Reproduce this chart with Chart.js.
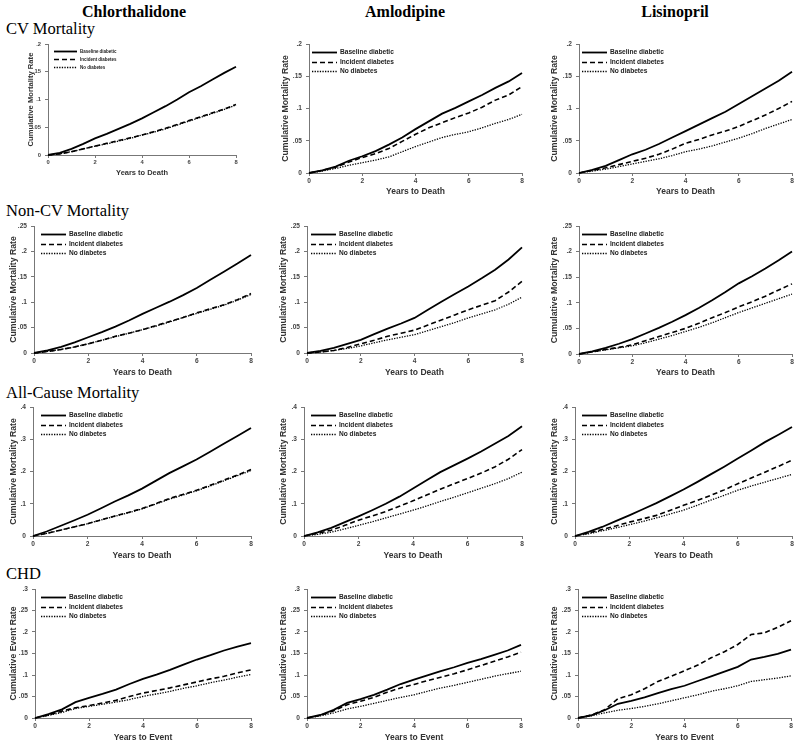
<!DOCTYPE html>
<html><head><meta charset="utf-8">
<script src="https://cdn.jsdelivr.net/npm/chart.js@4.4.0/dist/chart.umd.min.js"></script>
<style>
body{margin:0;background:#fff;width:800px;height:748px;overflow:hidden;position:relative;font-family:"Liberation Serif","Times New Roman",serif;}
.colt{position:absolute;font-weight:bold;font-size:16px;transform:translate(-50%,-50%);white-space:nowrap;color:#000;line-height:1}
.rowt{position:absolute;font-size:16.5px;transform:translateY(-50%);white-space:nowrap;color:#000;line-height:1}
canvas{position:absolute}
</style></head><body>
<script>
// ---------- DATA ----------
const years = [0,0.5,1,1.5,2,2.5,3,3.5,4,4.5,5,5.5,6,6.5,7,7.5,8];
const seriesNames = ['Baseline diabetic','Incident diabetes','No diabetes'];
const drugs = ['Chlorthalidone','Amlodipine','Lisinopril'];
const outcomes = ['CV Mortality','Non-CV Mortality','All-Cause Mortality','CHD'];
const yTitles = ['Cumulative Mortality Rate','Cumulative Mortality Rate','Cumulative Mortality Rate','Cumulative Event Rate'];
const xTitles = ['Years to Death','Years to Death','Years to Death','Years to Event'];
const xTickLabels = ['0','2','4','6','8'];
const yTickLabelsCV = ['0','.05','.1','.15','.2'];
const yTickLabelsNonCV = ['0','.05','.1','.15','.2','.25'];
const yTickLabelsAll = ['0','.1','.2','.3','.4'];
const yTickLabelsCHD = ['0','.05','.1','.15','.2','.25','.3'];

// CV mortality
const cvChlorBase = [0,.004,.011,.020,.030,.038,.047,.056,.066,.077,.088,.100,.113,.124,.136,.148,.159];
const cvChlorInc  = [0,.002,.006,.011,.016,.021,.026,.031,.036,.042,.048,.055,.062,.069,.076,.083,.091];
const cvChlorNo   = [0,.002,.006,.011,.016,.020,.025,.030,.036,.041,.047,.054,.061,.068,.075,.082,.090];
const cvAmloBase  = [0,.004,.010,.019,.026,.034,.044,.055,.068,.080,.092,.101,.111,.121,.132,.142,.155];
const cvAmloInc   = [0,.004,.009,.017,.024,.030,.038,.049,.060,.070,.078,.086,.093,.102,.113,.121,.134];
const cvAmloNo    = [0,.003,.007,.012,.016,.020,.025,.033,.041,.048,.055,.060,.064,.070,.077,.083,.091];
const cvLisBase   = [0,.005,.011,.020,.029,.036,.045,.055,.065,.075,.085,.095,.107,.119,.131,.143,.157];
const cvLisInc    = [0,.004,.008,.013,.018,.023,.029,.037,.046,.052,.059,.065,.072,.081,.090,.100,.111];
const cvLisNo     = [0,.003,.006,.010,.014,.018,.022,.027,.033,.037,.042,.048,.054,.061,.069,.076,.083];
// Non-CV mortality
const ncvChlorBase = [0,.005,.012,.021,.031,.041,.052,.064,.077,.089,.101,.114,.128,.144,.160,.176,.193];
const ncvChlorInc  = [0,.003,.007,.012,.018,.025,.033,.039,.046,.054,.062,.070,.079,.087,.095,.105,.117];
const ncvChlorNo   = [0,.003,.007,.012,.018,.025,.032,.039,.046,.053,.061,.070,.078,.086,.094,.104,.115];
const ncvAmloBase  = [0,.004,.010,.018,.026,.037,.048,.058,.069,.085,.101,.116,.131,.147,.164,.184,.208];
const ncvAmloInc   = [0,.002,.005,.011,.018,.025,.033,.039,.045,.055,.065,.075,.085,.094,.103,.120,.141];
const ncvAmloNo    = [0,.002,.005,.009,.014,.020,.026,.031,.036,.044,.052,.060,.069,.077,.085,.096,.110];
const ncvLisBase   = [0,.005,.012,.020,.029,.040,.051,.063,.076,.090,.105,.121,.138,.152,.167,.183,.200];
const ncvLisInc    = [0,.004,.009,.013,.018,.026,.034,.042,.050,.060,.071,.081,.092,.102,.113,.125,.137];
const ncvLisNo     = [0,.004,.008,.012,.016,.022,.029,.036,.044,.052,.061,.071,.081,.090,.099,.108,.117];
// All-cause mortality
const acChlorBase = [0,.014,.031,.048,.066,.086,.107,.126,.147,.171,.195,.216,.237,.261,.286,.310,.335];
const acChlorInc  = [0,.008,.018,.028,.038,.050,.062,.073,.085,.100,.116,.129,.142,.157,.173,.189,.206];
const acChlorNo   = [0,.008,.018,.028,.038,.050,.061,.072,.084,.099,.114,.127,.140,.155,.171,.187,.203];
const acAmloBase  = [0,.011,.025,.043,.061,.080,.100,.122,.147,.173,.198,.219,.240,.262,.286,.310,.340];
const acAmloInc   = [0,.008,.018,.033,.049,.062,.076,.092,.109,.127,.145,.162,.178,.195,.214,.238,.268];
const acAmloNo    = [0,.005,.012,.022,.033,.044,.056,.068,.080,.093,.107,.120,.134,.148,.162,.178,.198];
const acLisBase   = [0,.013,.028,.046,.064,.083,.102,.123,.144,.167,.191,.215,.240,.265,.291,.314,.338];
const acLisInc    = [0,.009,.020,.031,.043,.053,.064,.079,.095,.110,.126,.143,.162,.180,.198,.216,.235];
const acLisNo     = [0,.007,.016,.025,.035,.045,.056,.068,.080,.095,.111,.126,.142,.155,.167,.179,.191];
// CHD
const chdChlorBase = [0,.009,.020,.037,.047,.056,.066,.079,.091,.101,.112,.124,.136,.146,.157,.166,.174];
const chdChlorInc  = [0,.007,.016,.024,.029,.035,.041,.050,.058,.064,.070,.077,.084,.091,.097,.105,.112];
const chdChlorNo   = [0,.006,.013,.022,.027,.032,.037,.043,.050,.056,.062,.069,.075,.082,.088,.095,.101];
const chdAmloBase  = [0,.007,.019,.035,.044,.054,.066,.079,.089,.099,.109,.118,.128,.137,.147,.157,.170];
const chdAmloInc   = [0,.006,.017,.031,.039,.048,.060,.070,.078,.087,.095,.103,.112,.122,.132,.142,.153];
const chdAmloNo    = [0,.005,.012,.021,.027,.034,.041,.048,.054,.062,.070,.076,.083,.090,.097,.103,.109];
const chdLisBase   = [0,.006,.018,.033,.040,.048,.058,.067,.075,.086,.097,.108,.119,.136,.142,.149,.159];
const chdLisInc    = [0,.007,.019,.045,.054,.068,.085,.097,.110,.123,.140,.154,.171,.194,.198,.211,.226];
const chdLisNo     = [0,.005,.012,.018,.022,.027,.033,.040,.047,.054,.062,.068,.075,.085,.089,.093,.098];

// ---------- assembly ----------
const panelSeries = [
  [[cvChlorBase,cvChlorInc,cvChlorNo],[cvAmloBase,cvAmloInc,cvAmloNo],[cvLisBase,cvLisInc,cvLisNo]],
  [[ncvChlorBase,ncvChlorInc,ncvChlorNo],[ncvAmloBase,ncvAmloInc,ncvAmloNo],[ncvLisBase,ncvLisInc,ncvLisNo]],
  [[acChlorBase,acChlorInc,acChlorNo],[acAmloBase,acAmloInc,acAmloNo],[acLisBase,acLisInc,acLisNo]],
  [[chdChlorBase,chdChlorInc,chdChlorNo],[chdAmloBase,chdAmloInc,chdAmloNo],[chdLisBase,chdLisInc,chdLisNo]]
];
const rowYTicks = [yTickLabelsCV, yTickLabelsNonCV, yTickLabelsAll, yTickLabelsCHD];

// layout (page pixels): plot box, y-title centre x, x-title centre y, legend x
const boxes = [
 [{l:48,r:236,t:44,b:155,yt:31,xt:173,lx:54,s:0.88,ls:0.68,lg:8,ld:7},
  {l:309,r:522,t:44,b:173,yt:285,xt:192,lx:312},
  {l:579,r:792,t:44,b:173,yt:554,xt:192,lx:582}],
 [{l:34,r:251,t:226,b:353,yt:13,xt:373,lx:41},
  {l:307,r:522,t:226,b:353,yt:283,xt:373,lx:311},
  {l:579,r:792,t:226,b:354,yt:554,xt:373,lx:582}],
 [{l:33,r:251,t:407,b:536,yt:13,xt:556,lx:41},
  {l:304,r:522,t:407,b:536,yt:283,xt:556,lx:311},
  {l:575,r:792,t:407,b:536,yt:554,xt:556,lx:582}],
 [{l:35,r:251,t:589,b:718,yt:13,xt:738,lx:41},
  {l:307,r:521,t:589,b:718,yt:283,xt:738,lx:311},
  {l:578,r:791,t:589,b:718,yt:554,xt:738,lx:582}]
];
const colTitlePos = [[134,12],[405,12],[675,12]];
const rowTitlePos = [[6,29],[6,211],[6,393],[6,574]];

drugs.forEach((d,i)=>{const e=document.createElement('div');e.className='colt';e.textContent=d;e.style.left=colTitlePos[i][0]+'px';e.style.top=colTitlePos[i][1]+'px';document.body.appendChild(e);});
outcomes.forEach((o,i)=>{const e=document.createElement('div');e.className='rowt';e.textContent=o;e.style.left=rowTitlePos[i][0]+'px';e.style.top=rowTitlePos[i][1]+'px';document.body.appendChild(e);});

const SANS = "'Liberation Sans', Arial, sans-serif";
const styles = [
  {w:1.8, dash:[]},
  {w:1.6, dash:[5,3]},
  {w:1.3, dash:[1.3,1.3]}
];

const insideLegend = {
  id:'insideLegend',
  afterDatasetsDraw(chart, args, o){
    const ctx = chart.ctx, ca = chart.chartArea;
    ctx.save();
    chart.data.datasets.forEach((ds,i)=>{
      const y = Math.round(ca.top + o.dy + i*o.gap) + 0.5;
      const x0 = ca.left + o.dx;
      ctx.beginPath();
      ctx.setLineDash(ds.borderDash||[]);
      ctx.lineWidth = ds.borderWidth; ctx.strokeStyle = ds.borderColor;
      ctx.moveTo(x0,y); ctx.lineTo(x0+o.len,y); ctx.stroke();
      ctx.setLineDash([]);
      ctx.fillStyle = '#222';
      ctx.font = 'bold '+o.size+'px '+SANS;
      ctx.textBaseline = 'middle';
      ctx.fillText(ds.label, x0+o.len+3, y);
    });
    ctx.restore();
  }
};

for (let r=0;r<4;r++){
  for (let c=0;c<3;c++){
    const B = boxes[r][c];
    const s = B.s||1;
    const ls = B.ls||1;
    const yFont = 8.7*s, xFont = 8.5*s, tFont = 6.6*s;
    const yLH = yFont*1.2, xLH = xFont*1.2;
    const cl = Math.round(B.yt - yLH/2);
    const yW = B.l - cl;
    const padTop = 10, padRight = 8;
    const ct = B.t - padTop;
    const cb = Math.round(B.xt + xLH/2);
    const xH = cb - B.b;
    const cw = B.r + padRight - cl;
    const ch = cb - ct;
    const cv = document.createElement('canvas');
    cv.width = cw; cv.height = ch;
    cv.style.left = cl+'px'; cv.style.top = ct+'px';
    cv.style.width = cw+'px'; cv.style.height = ch+'px';
    document.body.appendChild(cv);
    const yLabels = rowYTicks[r];
    const datasets = panelSeries[r][c].map((vals,k)=>({
      label: seriesNames[k],
      data: years.map((x,i)=>({x:x,y:vals[i]})),
      borderColor:'#000', borderWidth: styles[k].w, borderDash: styles[k].dash,
      pointRadius:0, fill:false, tension:0, clip:false
    }));
    new Chart(cv, {
      type:'line',
      data:{datasets},
      plugins:[insideLegend],
      options:{
        responsive:false, animation:false, devicePixelRatio:1,
        layout:{padding:{top:padTop,right:padRight,left:0,bottom:0}},
        plugins:{legend:{display:false}, tooltip:{enabled:false},
          insideLegend:{dx:B.lx-B.l, dy:B.ld||8, gap:B.lg||9.5, len: B.ls?23:25, size:6.6*ls}},
        scales:{
          x:{type:'linear', min:0, max:8,
             afterFit:(a)=>{a.height = xH;},
             afterBuildTicks:(a)=>{a.ticks = xTickLabels.map(t=>({value:parseFloat(t)}));},
             ticks:{callback:(v,i)=>xTickLabels[i], font:{family:SANS,size:tFont,weight:'bold'}, color:'#444', padding:1, maxRotation:0, autoSkip:false},
             grid:{display:true, drawOnChartArea:false, drawTicks:true, tickLength:3, color:'#777'},
             border:{display:true, color:'#777', width:1},
             title:{display:true, text:xTitles[r], font:{family:SANS,size:xFont,weight:'bold'}, color:'#333', padding:0}
          },
          y:{type:'linear', min:0, max:parseFloat(yLabels[yLabels.length-1]),
             afterFit:(a)=>{a.width = yW;},
             afterBuildTicks:(a)=>{a.ticks = yLabels.map(t=>({value:parseFloat(t)}));},
             ticks:{callback:(v,i)=>yLabels[i], font:{family:SANS,size:tFont,weight:'bold'}, color:'#444', padding:4, autoSkip:false},
             grid:{display:true, drawOnChartArea:false, drawTicks:true, tickLength:3, color:'#777'},
             border:{display:true, color:'#777', width:1},
             title:{display:true, text:yTitles[r], font:{family:SANS,size:yFont,weight:'bold'}, color:'#333', padding:0}
          }
        }
      }
    });
  }
}
</script>
</body></html>
